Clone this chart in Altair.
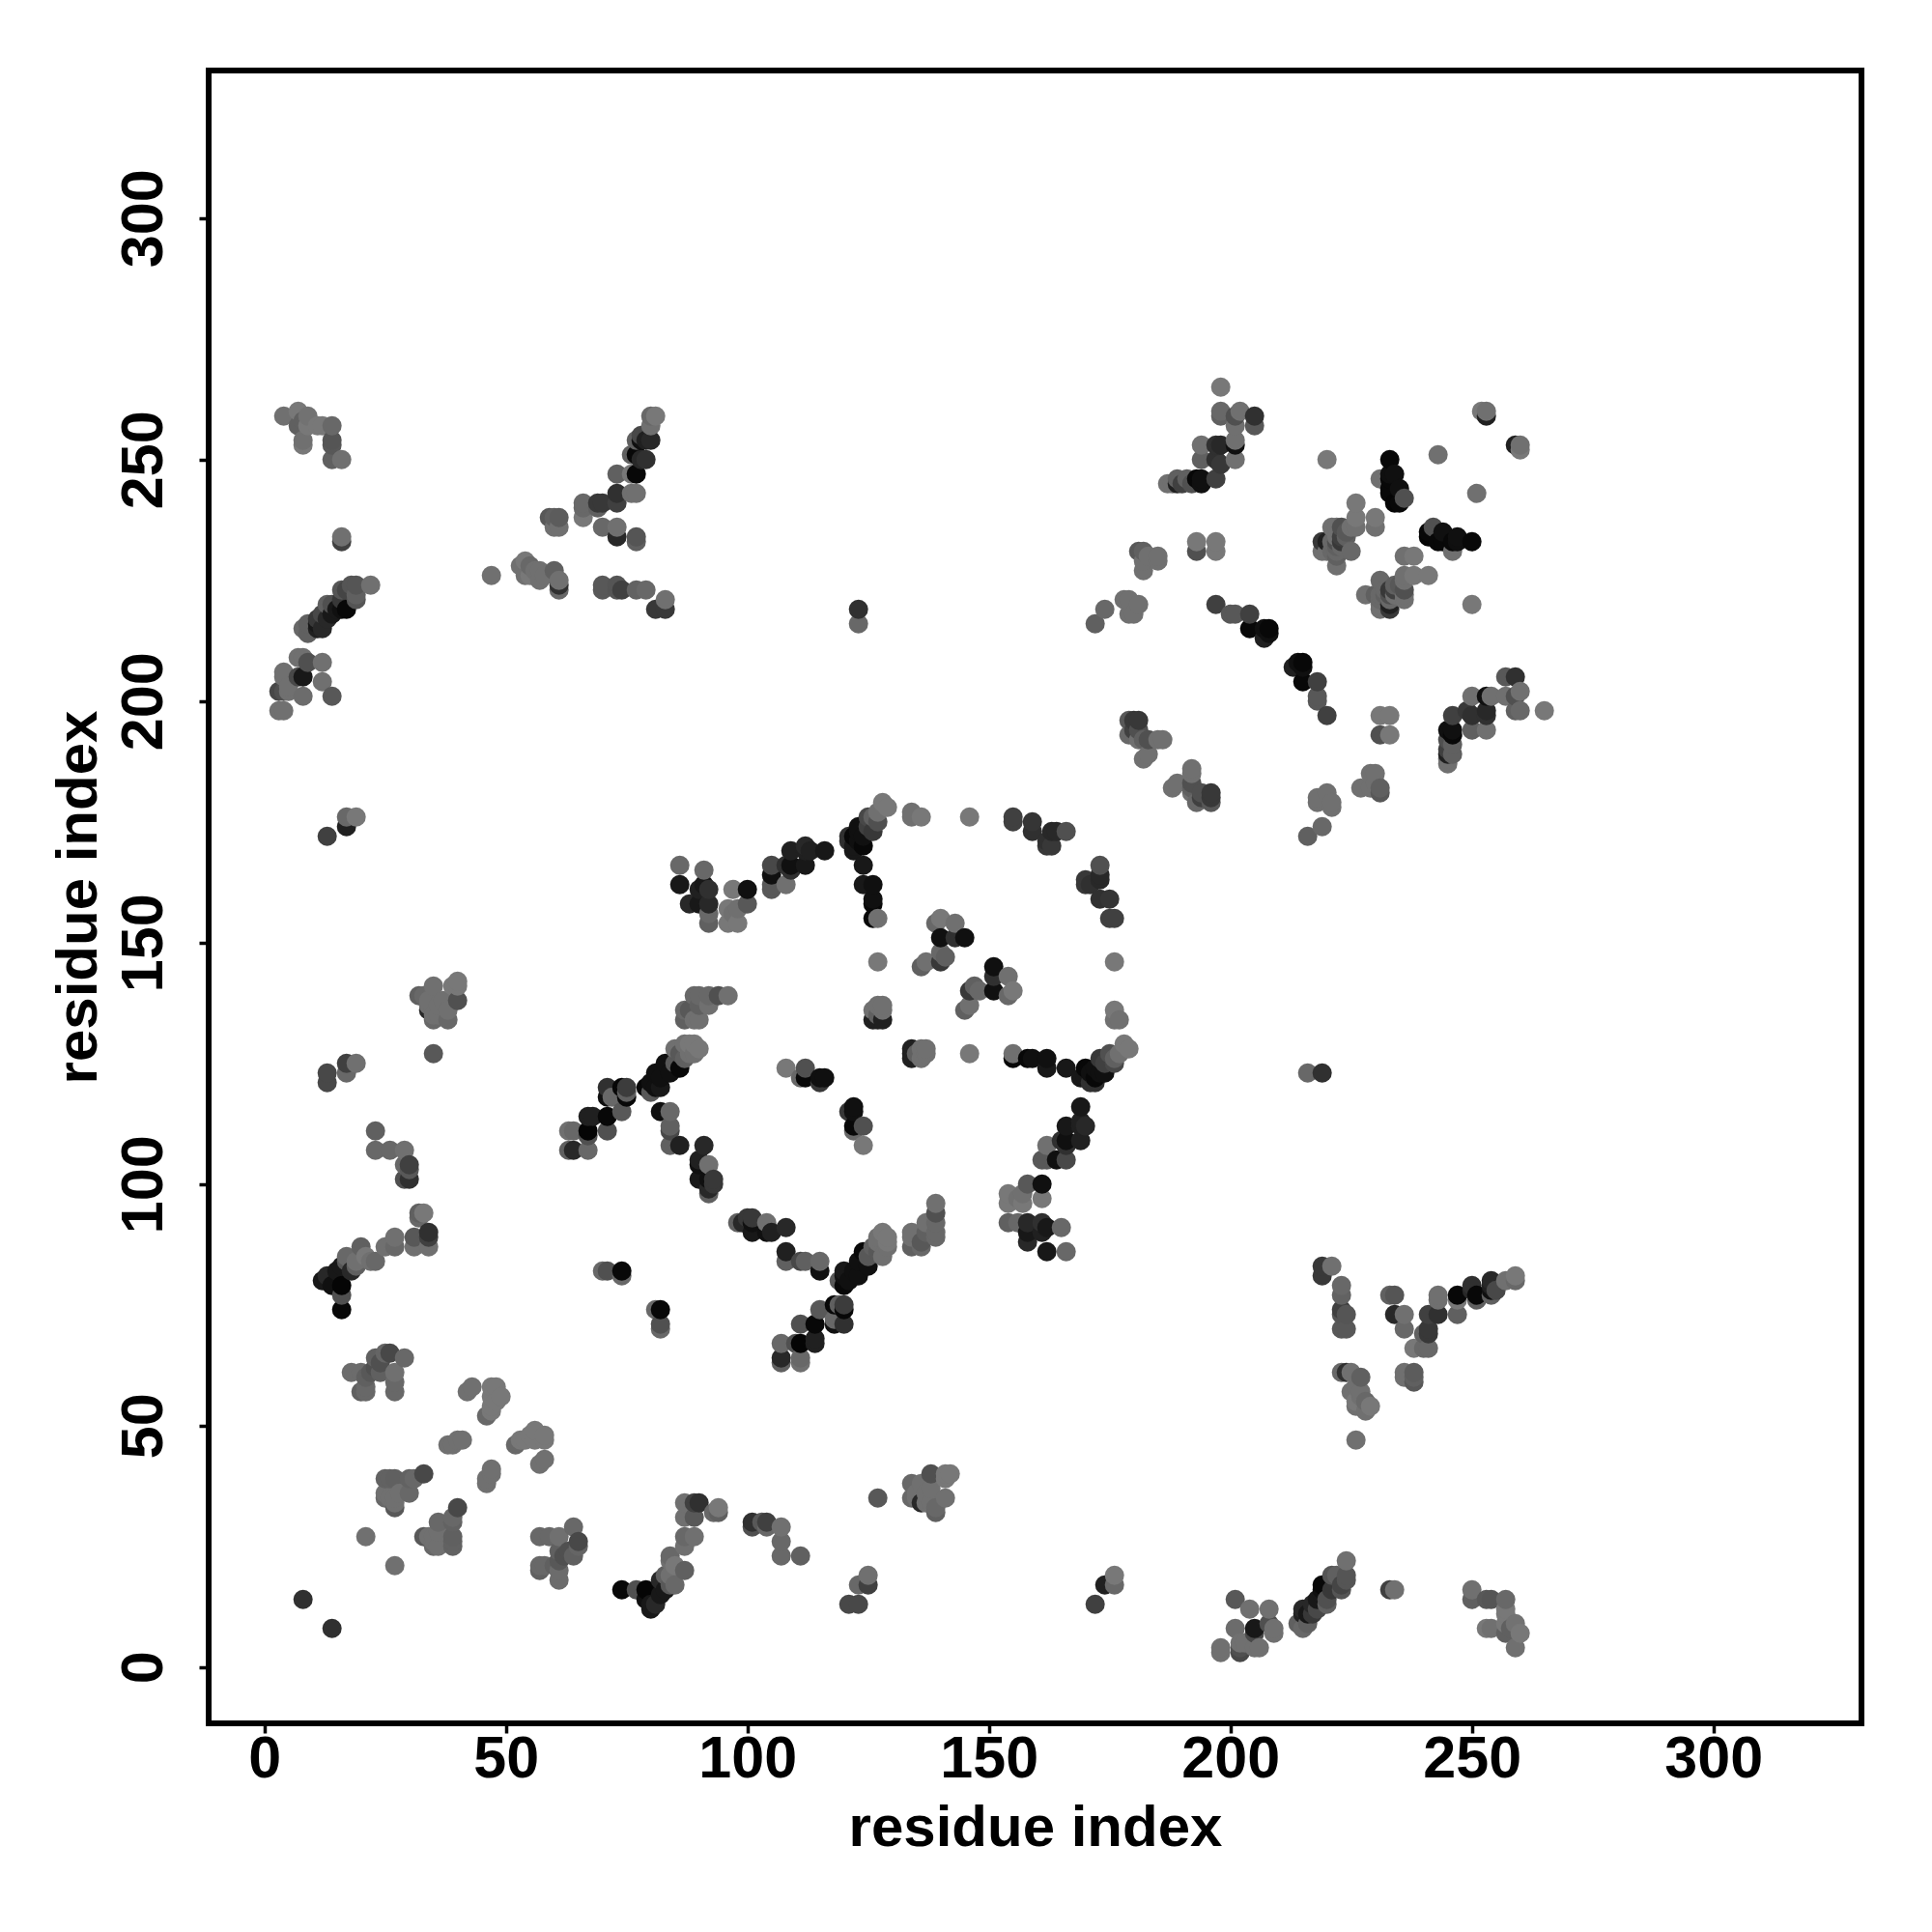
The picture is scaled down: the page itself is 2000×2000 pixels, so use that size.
import altair as alt
import pandas as pd

top_left = [(4,259,0x70),(7,260,0x78),(7,257,0x60),(8,258,0x60),(9,259,0x72),(8,254,0x70),(8,253,0x78),(9,257,0x78),
            (11,257,0x78),(12,257,0x78),(14,257,0x68),(14,254,0x55),(14,253,0x58),(14,250,0x60),(16,250,0x70),
            (16,233,0x40),(16,234,0x70)]
diag_a = [(22,224,0x70),(18,224,0x55),(19,224,0x55),(19,222,0x60),(19,221,0x55),(17,223,0x45),(16,223,0x55),(16,221,0x38),
          (17,219,0x08),(16,219,0x10),(15,219,0x18),(14,220,0x50),(13,220,0x60),(14,218,0x18),(13,217,0x28),(12,218,0x48),
          (11,216,0x18),(12,215,0x28),(11,217,0x38),(9,216,0x60),(8,215,0x68),(9,214,0x60),(11,215,0x20)]
low_a = [(7,209,0x70),(8,209,0x70),(9,208,0x50),(12,208,0x70),(8,205,0x18),(7,205,0x48),(4,206,0x70),(4,205,0x70),(12,204,0x70),
         (5,202,0x70),(3,202,0x48),(4,202,0x50),(8,201,0x6c),(14,201,0x58),(3,198,0x70),(4,198,0x70),(5,203,0x70)]
mid_a = [(47,226,0x70),(53,228,0x70),(54,229,0x78),(55,228,0x68),(54,226,0x70),(56,227,0x70),(57,227,0x70),(57,225,0x70),
         (60,227,0x60),(61,225,0x70),(61,224,0x30),(61,223,0x68),(58,226,0x70),(55,226,0x78),
         (70,224,0x58),(70,223,0x58),(73,224,0x55),(73,223,0x55),(74,223,0x40),(77,223,0x62),(79,223,0x68),(81,219,0x38),(83,219,0x38),(83,221,0x70)]
arm_a = [(77,234,0x55),(77,233,0x60),(73,236,0x70),(70,236,0x68),(73,234,0x28),(59,238,0x58),(61,238,0x5c),(60,238,0x60),(60,236,0x70),(61,236,0x70),
         (66,241,0x68),(66,238,0x78),(66,240,0x68),(69,241,0x38),(69,240,0x60),(70,241,0x38),(73,241,0x40),(73,243,0x30),(76,243,0x70),(77,243,0x70),
         (73,247,0x60),(76,247,0x78),(77,247,0x08),(76,251,0x60),(77,251,0x08),(78,250,0x28),(79,250,0x30),(77,254,0x60),(78,255,0x48),(78,254,0x10),
         (80,254,0x28),(79,254,0x20),(80,257,0x70),(80,259,0x68),(81,259,0x78)]
left_b = [(17,176,0x68),(19,176,0x78),(17,174,0x20),(13,172,0x40),(17,125,0x40),(19,125,0x70),(17,123,0x68),(13,123,0x48),(13,121,0x48),
          (23,111,0x60),(23,107,0x68),(26,107,0x68),(29,107,0x70),(29,104,0x68),(30,104,0x40),(30,103,0x58),(29,101,0x50),(30,101,0x30)]
star_b = [(40,142,0x78),(39,141,0x78),(40,141,0x78),(35,141,0x70),(32,139,0x60),(33,139,0x68),(40,138,0x50),(34,138,0x70),(37,138,0x70),(34,137,0x70),
          (36,137,0x70),(34,136,0x28),(35,135,0x70),(38,136,0x70),(35,134,0x68),(38,134,0x68),(36,135,0x70),(35,127,0x58)]
right_b = [(86,166,0x68),(86,162,0x18),(88,158,0x28),(89,139,0x68),(87,136,0x68),(88,136,0x58),(87,134,0x60),(89,134,0x70),
           (87,129,0x70),(88,129,0x78),(89,129,0x78),(85,128,0x70),(86,127,0x58),(88,127,0x70),(87,126,0x60),(86,124,0x08),(85,125,0x58),(83,125,0x10),
           (84,123,0x10),(81,123,0x10),(82,122,0x10),(80,121,0x10),(79,120,0x08),(82,120,0x18),(80,119,0x58),(81,120,0x10),
           (71,120,0x30),(75,120,0x3c),(74,120,0x08),(75,118,0x08),(75,119,0x60),(71,118,0x10),(72,118,0x68),(74,115,0x58),(71,114,0x08),(67,114,0x20),(68,114,0x20),
           (71,111,0x50),(67,111,0x05),(67,110,0x50),(63,111,0x70),(64,111,0x68),(63,107,0x60),(64,107,0x28),(67,107,0x68),
           (82,115,0x10),(84,115,0x68),(84,112,0x60),(84,111,0x48),(84,108,0x60),(86,108,0x20),
           (91,108,0x28),(90,105,0x20),(90,104,0x10),(92,104,0x70),(93,101,0x38),(92,101,0x10),(93,100,0x38),(92,98,0x60),(92,99,0x28),(90,101,0x18)]
diag_c = [(33,94,0x78),(32,94,0x60),(32,93,0x68),(34,90,0x30),(34,89,0x40),(31,89,0x58),(34,87,0x70),(31,87,0x70),(27,89,0x70),(27,87,0x68),(25,87,0x70),
          (23,84,0x68),(22,84,0x70),(20,87,0x60),(21,85,0x78),(19,84,0x70),(17,85,0x68),(18,82,0x28),(16,83,0x18),(17,84,0x58),(15,82,0x18),(13,81,0x28),
          (13,80,0x18),(14,79,0x10),(16,79,0x05),(16,77,0x50),(16,74,0x08),(12,80,0x18),(19,83,0x60),
          (70,82,0x68),(71,82,0x50),(74,81,0x68),(74,82,0x08)]
cluster_c = [(29,64,0x68),(26,65,0x48),(25,65,0x65),(23,64,0x60),(18,61,0x6c),(20,61,0x6c),(23,62,0x50),(24,63,0x50),(21,60,0x60),(22,61,0x58),(24,61,0x60),
             (27,61,0x70),(27,59,0x68),(27,57,0x68),(21,57,0x68),(20,57,0x60),(21,58,0x68),
             (43,58,0x70),(42,57,0x70),(47,58,0x78),(48,58,0x78),(49,56,0x78),(47,56,0x78),(48,55,0x78),(47,54,0x78),(46,52,0x68),(47,53,0x78),
             (38,46,0x70),(39,46,0x70),(41,47,0x70),(40,47,0x70),
             (33,40,0x48),(25,39,0x62),(26,39,0x62),(27,39,0x60),(30,39,0x62),(31,39,0x68),(25,36,0x70),(25,35,0x68),(26,35,0x70),(27,35,0x70),(27,33,0x58),(30,36,0x68),(28,36,0x70),(27,34,0x70),
             (21,27,0x70),(8,14,0x30)]
ring_d = [(91,165,0x68),(91,162,0x18),(92,161,0x30),(90,161,0x20),(92,158,0x28),(90,158,0x18),(92,154,0x60),(92,156,0x68),
          (97,161,0x78),(100,161,0x10),(100,158,0x58),(98,157,0x70),(96,157,0x78),(96,154,0x78),(98,154,0x78),(97,156,0x70),
          (105,166,0x48),(105,164,0x10),(105,161,0x58),(108,162,0x70),(105,162,0x58),(109,169,0x20),(109,166,0x10),(108,166,0x30),(109,165,0x30),(112,170,0x28),(112,169,0x20),(113,169,0x20),(112,166,0x18),(116,169,0x18),
          (128,179,0x78),(129,178,0x78),(127,177,0x70),(126,176,0x60),(125,176,0x48),(127,175,0x50),(125,174,0x40),(126,173,0x38),(123,174,0x10),(123,173,0x10),(122,172,0x08),(124,172,0x10),(121,172,0x30),(121,171,0x30),(123,171,0x10),(124,170,0x08),(122,170,0x18),(122,169,0x18),(124,166,0x18),
          (124,162,0x18),(126,162,0x10),(126,159,0x10),(126,158,0x08),(126,155,0x08),(127,155,0x70),
          (134,177,0x70),(134,176,0x70),(136,176,0x78),(146,176,0x78),(155,176,0x40),(155,175,0x40),(159,175,0x35),(159,173,0x30),(163,173,0x28),(162,170,0x38),(163,170,0x38),(166,173,0x50),(164,173,0x28),(162,171,0x30)]
inner_d = [(140,155,0x78),(139,154,0x68),(143,154,0x70),(140,151,0x10),(143,151,0x30),(145,151,0x10),(140,148,0x68),(141,147,0x60),(140,146,0x38),(136,145,0x60),(137,146,0x70),
           (127,146,0x78),(127,137,0x70),(128,137,0x70),(126,136,0x70),(126,134,0x20),(127,134,0x20),(128,134,0x20),(127,135,0x60),(128,136,0x70),
           (108,124,0x78),(112,124,0x50),(112,122,0x08),(111,122,0x68),(115,122,0x10),(116,122,0x10),(115,121,0x38),
           (96,139,0x70),(94,139,0x50),(92,139,0x68),(90,139,0x68),(92,137,0x70),(90,137,0x60),(90,134,0x70),(90,128,0x78),(89,127,0x70)]
far_e = [(123,219,0x30),(123,216,0x68),(172,216,0x60),(174,219,0x68),(178,221,0x70),(179,218,0x70),(179,221,0x70),(180,218,0x70),(181,220,0x70)]
top_f = [(198,265,0x78),(198,260,0x68),(198,259,0x60),(202,260,0x70),(201,259,0x50),(205,259,0x30),(205,257,0x58),(201,257,0x70),(201,254,0x70),(201,253,0x10),(194,253,0x70),(197,253,0x30),(198,253,0x28),
         (201,250,0x70),(194,250,0x60),(197,250,0x30),(198,249,0x38),(197,246,0x40),(194,246,0x10),(193,246,0x08),(194,245,0x10),(187,245,0x70),(188,245,0x70),(189,246,0x60),(190,245,0x40),(189,245,0x20),(191,246,0x60),(192,245,0x50)]
right_f = [(220,250,0x78),(233,250,0x08),(243,251,0x70),(253,260,0x70),(252,260,0x78),(253,259,0x20),(260,253,0x68),(259,253,0x30),(260,252,0x70),(251,243,0x70),
           (231,246,0x70),(233,247,0x0f),(234,247,0x10),(233,246,0x08),(233,244,0x08),(235,244,0x10),(233,243,0x08),(234,241,0x05),(235,241,0x08),(236,242,0x50),
           (226,241,0x78),(226,238,0x78),(230,238,0x78),(230,236,0x70),(226,236,0x70),(225,236,0x70),(222,236,0x70),(221,236,0x70),(223,236,0x50),(224,235,0x58),(223,234,0x40),(222,233,0x50),(219,233,0x38),(221,233,0x68),(222,232,0x60),(225,231,0x68),(219,231,0x70),(221,231,0x68),(222,230,0x60),(222,228,0x70),
           (241,235,0x10),(242,236,0x48),(241,234,0x08),(244,235,0x10),(243,233,0x10),(247,234,0x10),(246,233,0x18),(247,233,0x18),(250,233,0x10),(246,231,0x68),
           (236,230,0x70),(238,230,0x78),(236,226,0x78),(238,226,0x78),(241,226,0x70),(231,225,0x68),(234,224,0x60),(236,225,0x70),(236,223,0x50),(232,223,0x68),(233,223,0x38),(228,222,0x68),(231,222,0x68),(234,222,0x70),(236,222,0x70),(233,221,0x30),(231,220,0x70),(233,220,0x20),(250,220,0x70)]
left_f = [(181,231,0x58),(182,231,0x60),(185,230,0x70),(183,230,0x70),(182,229,0x70),(185,229,0x70),(182,227,0x70),(193,233,0x78),(193,231,0x50),(197,233,0x78),(197,231,0x78),
          (197,220,0x40),(200,218,0x58),(201,218,0x58),(204,218,0x40),(204,215,0x08),(207,215,0x10),(208,215,0x08),(207,213,0x20),(208,214,0x10),
          (181,196,0x38),(180,196,0x38),(180,194,0x40),(181,194,0x50),(182,192,0x60),(183,192,0x50),(185,192,0x70),(186,192,0x70),(183,189,0x70),(182,188,0x70),
          (179,196,0x58),(179,193,0x68),(181,192,0x70)]

clusters = [top_left, diag_a, low_a, mid_a, arm_a, left_b, star_b, right_b, diag_c, cluster_c, ring_d, inner_d, far_e, top_f, right_f, left_f]
tick_values = [0, 50, 100, 150, 200, 250, 300]
axis_title = "residue index"

# A contact map is symmetric: every read pair (i, j) is also the pair (j, i).
pairs = {}
for cluster in clusters:
    for i, j, g in cluster:
        pairs.setdefault((i, j), g)
        pairs.setdefault((j, i), g)
rows = [{"x": i, "y": j, "c": f"#{g:02x}{g:02x}{g:02x}"} for (i, j), g in sorted(pairs.items())]
df = pd.DataFrame(rows)

FONT = "Liberation Sans"
x_axis = alt.Axis(values=tick_values, grid=False, domain=False, ticks=True, tickSize=10, tickWidth=3.5, tickColor="black",
                  labelFont=FONT, labelFontWeight="bold", labelFontSize=61, labelColor="black", labelBaseline="alphabetic",
                  labelPadding=45, labelFlush=False, labelOverlap=False,
                  title=axis_title, titleFont=FONT, titleFontWeight="bold", titleFontSize=60, titleColor="black",
                  titleX=855.5, titleY=126, titleBaseline="alphabetic", titleAlign="center")
y_axis = alt.Axis(values=tick_values, grid=False, domain=False, ticks=True, tickSize=10, tickWidth=3.5, tickColor="black",
                  labelFont=FONT, labelFontWeight="bold", labelFontSize=61, labelColor="black", labelAngle=270,
                  labelAlign="center", labelBaseline="alphabetic", labelPadding=39, labelFlush=False, labelOverlap=False,
                  title=axis_title, titleFont=FONT, titleFontWeight="bold", titleFontSize=60, titleColor="black",
                  titleX=-117, titleY=855.5, titleAngle=270, titleBaseline="alphabetic", titleAlign="center")

points = (
    alt.Chart(df)
    .mark_circle(size=400, opacity=1)
    .encode(
        x=alt.X("x:Q", scale=alt.Scale(domain=[-11.54, 330.66], nice=False, zero=False), axis=x_axis),
        y=alt.Y("y:Q", scale=alt.Scale(domain=[-11.64, 330.56], nice=False, zero=False), axis=y_axis),
        color=alt.Color("c:N", scale=None),
        order=alt.Order("idx:Q"),
    )
    .transform_window(idx="row_number()")
)
frame = (
    alt.Chart(pd.DataFrame({"a": [0]}))
    .mark_rect(filled=False, stroke="black", strokeWidth=6, fillOpacity=0)
    .encode(x=alt.value(0), x2=alt.value(1711), y=alt.value(0), y2=alt.value(1711))
)
chart = (
    alt.layer(points, frame)
    .properties(width=1711, height=1711, background="white",
                autosize=alt.AutoSizeParams(type="none"),
                padding={"left": 208, "top": 65, "right": 60, "bottom": 200})
    .configure_view(stroke=None)
)
chart.save("out.html", embed_options={"renderer": "svg", "actions": False})
